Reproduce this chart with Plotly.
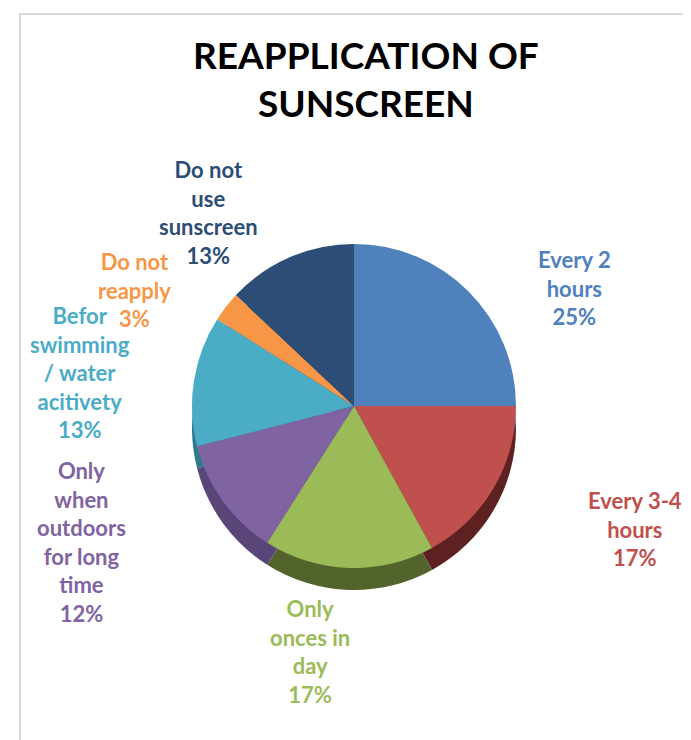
import plotly.graph_objects as go

categories = ["Every 2 hours", "Every 3-4 hours", "Only onces in day",
              "Only when outdoors for long time", "Befor swimming / water acitivety",
              "Do not reapply", "Do not use sunscreen"]
label_lines = [["Every 2", "hours"], ["Every 3-4", "hours"], ["Only", "onces in", "day"],
               ["Only", "when", "outdoors", "for long", "time"],
               ["Befor", "swimming", "/ water", "acitivety"],
               ["Do not", "reapply"], ["Do not", "use", "sunscreen"]]
values = [25, 17, 17, 12, 13, 3, 13]
colors = ["#4F81BD", "#C0504D", "#9BBB59", "#8064A2", "#4BACC6", "#F79646", "#2C4D75"]
side_colors = ["#2B4A70", "#5C2120", "#52642C", "#5A4578", "#2E7A8E", "#A5602A", "#1B2F48"]

W, H = 691, 740
cx, cy, r, depth = 346, 398, 162, 22

def px(x):
    return x / W

def py(y):
    return 1 - y / H

fig = go.Figure()
# side (depth) layer
fig.add_trace(go.Pie(labels=categories, values=values, sort=False, direction="clockwise",
                     rotation=0, textinfo="none", hoverinfo="skip", showlegend=False,
                     marker=dict(colors=side_colors, line=dict(width=0)),
                     domain=dict(x=[px(cx - r), px(cx + r)],
                                 y=[py(cy + depth + r), py(cy + depth - r)])))
# top layer
fig.add_trace(go.Pie(labels=categories, values=values, sort=False, direction="clockwise",
                     rotation=0, textinfo="none", showlegend=False,
                     marker=dict(colors=colors, line=dict(width=0)),
                     domain=dict(x=[px(cx - r), px(cx + r)],
                                 y=[py(cy + r), py(cy - r)])))

label_pos = [(566, 280), (627, 521), (302, 643), (73, 534), (72, 364), (126, 282), (200, 204)]
total = sum(values)
font_family = "Lato, sans-serif"
for lines, v, c, (x, y) in zip(label_lines, values, colors, label_pos):
    txt = "<b>" + "<br>".join(lines + [f"{round(100 * v / total)}%"]) + "</b>"
    fig.add_annotation(x=px(x), y=py(y), xref="paper", yref="paper", text=txt,
                       showarrow=False, xanchor="center", yanchor="middle",
                       font=dict(family=font_family, size=22, color=c))

fig.add_annotation(x=px(358), y=py(70), xref="paper", yref="paper",
                   text="<b>REAPPLICATION OF<br>SUNSCREEN</b>", showarrow=False,
                   xanchor="center", yanchor="middle",
                   font=dict(family=font_family, size=37, color="black"))

fig.add_shape(type="rect", xref="paper", yref="paper", x0=px(12), x1=px(681),
              y0=py(745), y1=py(6), line=dict(color="#D9D9D9", width=2))

fig.update_layout(width=W, height=H, margin=dict(l=0, r=0, t=0, b=0),
                  paper_bgcolor="white", plot_bgcolor="white")
fig.write_html("out.html")
